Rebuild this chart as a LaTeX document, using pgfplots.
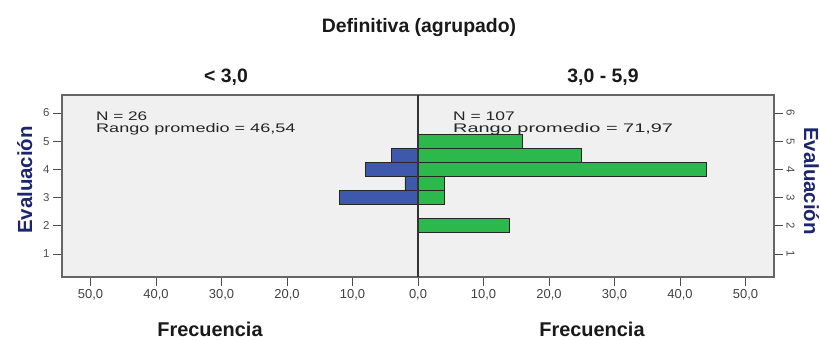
\documentclass[border=0pt]{standalone}
\usepackage{pgfplots}
\pgfplotsset{compat=1.18}
\usepackage{fontspec}
\setmainfont{Liberation Sans}
\definecolor{bblue}{RGB}{62,88,172}
\definecolor{bgreen}{RGB}{44,184,76}
\definecolor{navy}{RGB}{28,38,110}
\definecolor{bgc}{RGB}{240,240,240}
\begin{document}
\begin{tikzpicture}[x=1bp,y=1bp]
\path[use as bounding box] (0,0) rectangle (820,339);
\pgfplotsset{
  common/.style={
    at={(62bp,62bp)}, anchor=south west,
    scale only axis, width=712bp, height=182bp,
    xmin=-54.35, xmax=54.35, ymin=0.18, ymax=6.64,
    tick align=outside,
    major tick length=9bp,
    tick style={black!70, line width=0.8pt},
    ytick={1,2,3,4,5,6},
    yticklabel style={font=\fontsize{11.5}{12}\selectfont, text=black!70},
    xticklabel style={font=\fontsize{13}{14}\selectfont, text=black!75},
    /pgf/number format/assume math mode=true,
  }
}
\begin{axis}[common,
  axis background/.style={fill=bgc},
  axis line style={draw=black!60, line width=1.2pt},
  xtick={-50,-40,-30,-20,-10,0,10,20,30,40,50},
  xticklabels={{50,0},{40,0},{30,0},{20,0},{10,0},{0,0},{10,0},{20,0},{30,0},{40,0},{50,0}},
  xtick pos=bottom, ytick pos=left,
  xbar, bar width=0.5,
]
\addplot[draw=black!85, line width=0.8pt, fill=bblue, bar shift=0pt] coordinates {(-4,4.5) (-8,4) (-2,3.5) (-12,3)};
\addplot[draw=black!85, line width=0.8pt, fill=bgreen, bar shift=0pt] coordinates {(16,5) (25,4.5) (44,4) (4,3.5) (4,3) (14,2)};
\draw[black!80, line width=1.2pt] (axis cs:0,0.18) -- (axis cs:0,6.64);
\end{axis}
\begin{axis}[common,
  axis x line=none, axis y line*=right,
  axis line style={draw=black!60, line width=1.2pt},
  yticklabel style={rotate=-90, anchor=south},
]
\end{axis}
\node[anchor=base, font=\bfseries\fontsize{19.5}{22}\selectfont, text=black!90] at (419,307) {Definitiva (agrupado)};
\node[anchor=base, font=\bfseries\fontsize{19.5}{22}\selectfont, text=black!90] at (226,257) {< 3,0};
\node[anchor=base, font=\bfseries\fontsize{19.5}{22}\selectfont, text=black!90] at (603,257) {3,0 - 5,9};
\node[anchor=base, font=\bfseries\fontsize{20}{22}\selectfont, text=black!90] at (210,3) {Frecuencia};
\node[anchor=base, font=\bfseries\fontsize{20}{22}\selectfont, text=black!90] at (592,3) {Frecuencia};
\node[anchor=base, rotate=90, font=\bfseries\fontsize{20.5}{22}\selectfont, text=navy] at (32,159) {Evaluación};
\node[anchor=base, rotate=-90, font=\bfseries\fontsize{20.5}{22}\selectfont, text=navy] at (804,158) {Evaluación};
\node[anchor=base west, inner sep=0pt, font=\fontsize{12.5}{14}\selectfont, text=black!85] at (96,219) {\scalebox{1.38}[1]{N = 26}};
\node[anchor=base west, inner sep=0pt, font=\fontsize{12.5}{14}\selectfont, text=black!85] at (96,207) {\scalebox{1.45}[1]{Rango promedio = 46,54}};
\node[anchor=base west, inner sep=0pt, font=\fontsize{12.5}{14}\selectfont, text=black!85] at (453,219) {\scalebox{1.4}[1]{N = 107}};
\node[anchor=base west, inner sep=0pt, font=\fontsize{12.5}{14}\selectfont, text=black!85] at (453,207) {\scalebox{1.6}[1]{Rango promedio = 71,97}};
\end{tikzpicture}
\end{document}
